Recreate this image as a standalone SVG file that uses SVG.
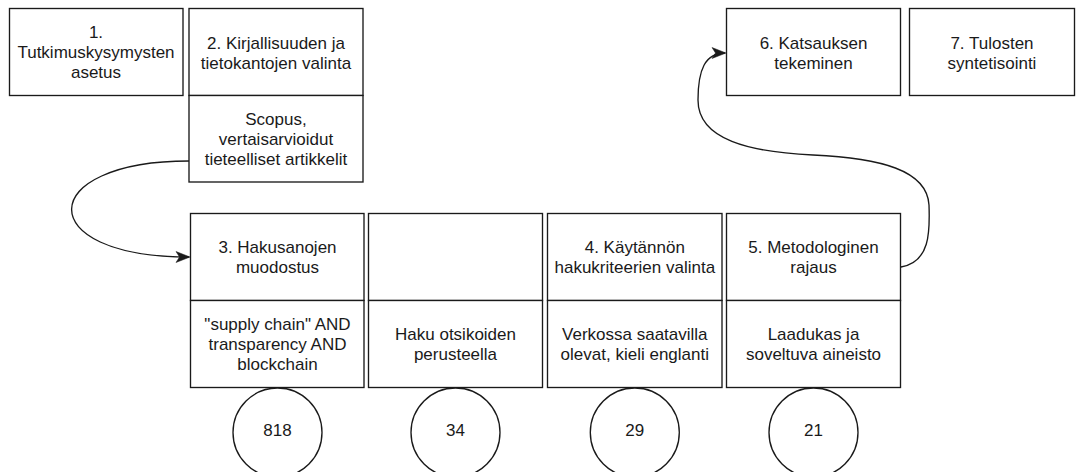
<svg xmlns="http://www.w3.org/2000/svg" width="1076" height="472" viewBox="0 0 1076 472">
<style>
.b{fill:#fff;stroke:#1a1a1a;stroke-width:1.35}
.c{fill:#fff;stroke:#1a1a1a;stroke-width:1.35}
.t{font-family:"Liberation Sans",Arial,sans-serif;font-size:17px;fill:#1a1a1a;text-anchor:middle}
.e{fill:none;stroke:#1a1a1a;stroke-width:1.35}
</style>
<defs>
<marker id="arr" viewBox="0 0 14 14" markerWidth="14" markerHeight="14" refX="13" refY="7" orient="auto" markerUnits="userSpaceOnUse" overflow="visible">
<path d="M0,1.5 L14,7 L0,12.5 L3.5,7 Z" fill="#1a1a1a" stroke="#1a1a1a" stroke-width="0.5"/>
</marker>
</defs>
<rect width="1076" height="472" fill="#fff"/>
<g id="connectors">
<path class="e" d="M189,161 C35,161 30,257 189,257" marker-end="url(#arr)"/>
<path class="e" d="M901,267 C930,262 930,232 929,205 C927,170 880,158 813,155 C750,152 698,140 698,100 C698,70 705,53 725,53" marker-end="url(#arr)"/>
</g>
<g id="n1"><rect class="b" x="9.5" y="8.5" width="173.5" height="87"/>
<text class="t" x="96" y="38">1.</text><text class="t" x="96" y="58">Tutkimuskysymysten</text><text class="t" x="96" y="78">asetus</text></g>
<g id="n2"><rect class="b" x="189" y="8.5" width="174" height="87"/>
<text class="t" x="276" y="49">2. Kirjallisuuden ja</text><text class="t" x="276" y="69">tietokantojen valinta</text></g>
<g id="n2b"><rect class="b" x="189" y="95.5" width="174" height="86.5"/>
<text class="t" x="276" y="124.5">Scopus,</text><text class="t" x="276" y="144.5">vertaisarvioidut</text><text class="t" x="276" y="164.5">tieteelliset artikkelit</text></g>
<g id="n6"><rect class="b" x="726.5" y="8.5" width="174" height="87"/>
<text class="t" x="813.5" y="49">6. Katsauksen</text><text class="t" x="813.5" y="69">tekeminen</text></g>
<g id="n7"><rect class="b" x="909.5" y="8.5" width="165" height="87"/>
<text class="t" x="992" y="49">7. Tulosten</text><text class="t" x="992" y="69">syntetisointi</text></g>
<g id="n3"><rect class="b" x="190.5" y="213.5" width="173.5" height="87"/>
<text class="t" x="277.5" y="252.5">3. Hakusanojen</text><text class="t" x="277.5" y="272.5">muodostus</text></g>
<g id="n3b"><rect class="b" x="190.5" y="300.5" width="173.5" height="87"/>
<text class="t" x="277.5" y="329.5">"supply chain" AND</text><text class="t" x="277.5" y="349.5">transparency AND</text><text class="t" x="277.5" y="369.5">blockchain</text></g>
<g id="nx"><rect class="b" x="368.5" y="213.5" width="174" height="87"/></g>
<g id="nxb"><rect class="b" x="368.5" y="300.5" width="174" height="87"/>
<text class="t" x="455.5" y="339.5">Haku otsikoiden</text><text class="t" x="455.5" y="359.5">perusteella</text></g>
<g id="n4"><rect class="b" x="547.5" y="213.5" width="174.5" height="87"/>
<text class="t" x="634.8" y="252.5">4. Käytännön</text><text class="t" x="634.8" y="272.5">hakukriteerien valinta</text></g>
<g id="n4b"><rect class="b" x="547.5" y="300.5" width="174.5" height="87"/>
<text class="t" x="634.8" y="339.5">Verkossa saatavilla</text><text class="t" x="634.8" y="359.5">olevat, kieli englanti</text></g>
<g id="n5"><rect class="b" x="726.5" y="213.5" width="174" height="87"/>
<text class="t" x="813.5" y="252.5">5. Metodologinen</text><text class="t" x="813.5" y="272.5">rajaus</text></g>
<g id="n5b"><rect class="b" x="726.5" y="300.5" width="174" height="87"/>
<text class="t" x="813.5" y="339.5">Laadukas ja</text><text class="t" x="813.5" y="359.5">soveltuva aineisto</text></g>
<g id="c1"><circle class="c" cx="277.5" cy="432.5" r="44.5"/><text class="t" x="277.5" y="436">818</text></g>
<g id="c2"><circle class="c" cx="455.5" cy="432.5" r="44.5"/><text class="t" x="455.5" y="436">34</text></g>
<g id="c3"><circle class="c" cx="634.8" cy="432.5" r="44.5"/><text class="t" x="634.8" y="436">29</text></g>
<g id="c4"><circle class="c" cx="813.5" cy="432.5" r="44.5"/><text class="t" x="813.5" y="436">21</text></g>
</svg>
